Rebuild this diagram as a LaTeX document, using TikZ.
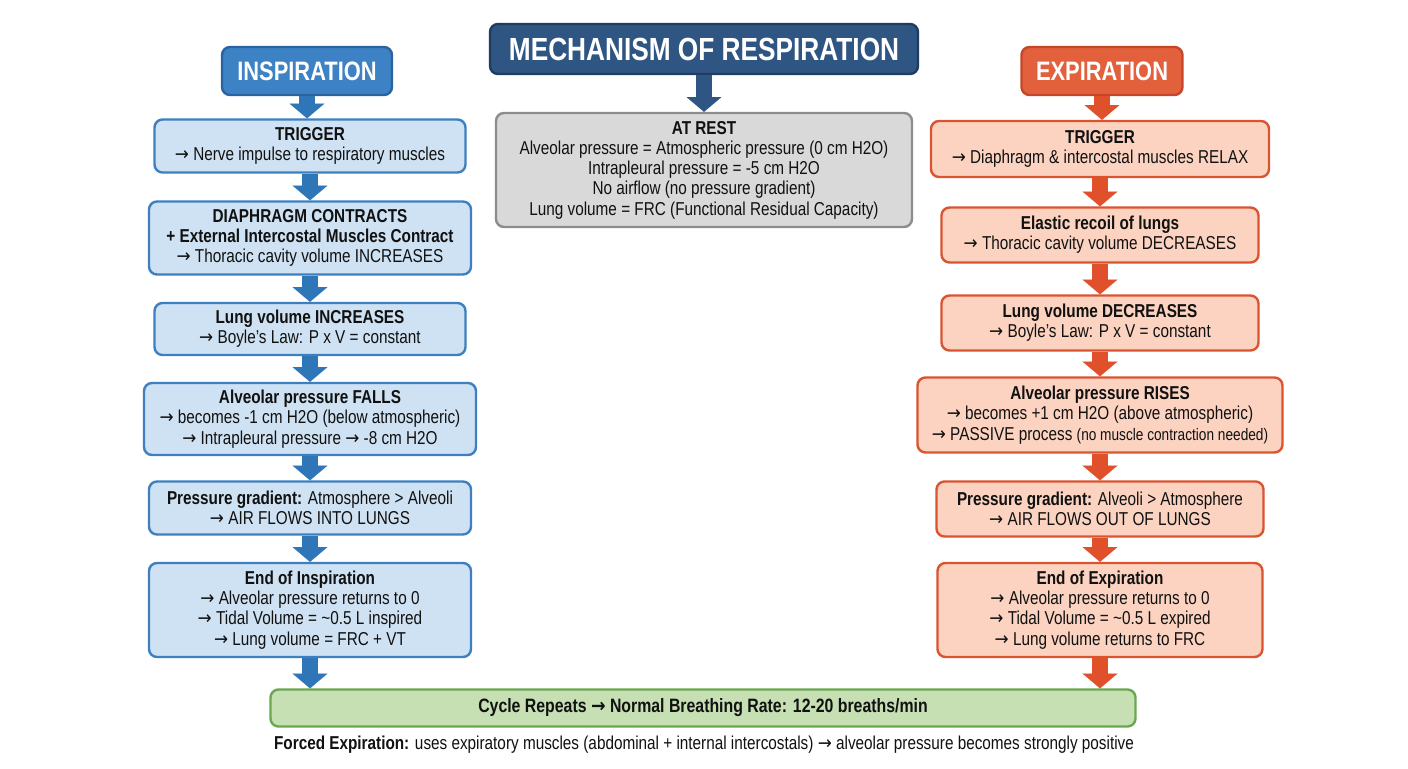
\documentclass[tikz,border=0pt]{standalone}
\usepackage{fontspec}
\setmainfont{Liberation Sans}[FakeStretch=0.82]
\newfontfamily\arrowfont{DejaVu Sans}[FakeStretch=0.9]
\newcommand\ra{{\arrowfont →}}
\usetikzlibrary{arrows.meta}
\definecolor{bhead}{HTML}{3C82C4}
\definecolor{bheadline}{HTML}{2A64A0}
\definecolor{lfill}{HTML}{CFE2F3}
\definecolor{lbord}{HTML}{3D7FBF}
\definecolor{barrow}{HTML}{2F76B8}
\definecolor{navy}{HTML}{2F5583}
\definecolor{navyline}{HTML}{1F3D60}
\definecolor{ohead}{HTML}{E2613C}
\definecolor{oheadline}{HTML}{C4472A}
\definecolor{rfill}{HTML}{FBD3C0}
\definecolor{rbord}{HTML}{DA5430}
\definecolor{oarrow}{HTML}{E0502A}
\definecolor{gfill}{HTML}{D9D9D9}
\definecolor{gbord}{HTML}{8C8C8C}
\definecolor{grfill}{HTML}{C6E0B4}
\definecolor{grbord}{HTML}{6AA84F}
\definecolor{txt}{HTML}{111111}
\tikzset{
  sz/.style 2 args={minimum width=#1*0.75pt, minimum height=#2*0.75pt},
  base/.style={rounded corners=6pt, line width=1.8pt, align=center, inner sep=1pt, text=txt,
    font=\fontsize{14}{15.2}\selectfont},
  lbox/.style={base, draw=lbord, fill=lfill},
  rbox/.style={base, draw=rbord, fill=rfill},
  restbox/.style={base, draw=gbord, fill=gfill},
  greenbox/.style={base, draw=grbord, fill=grfill},
  headbox/.style={rounded corners=6pt, line width=1.8pt, align=center, text=white,
    font=\fontsize{20}{22}\selectfont\bfseries},
  flowarrow/.style={line width=12pt, -{Triangle[width=26pt,length=11pt,line width=0.01pt]}},
  bflow/.style={flowarrow, draw=barrow},
  oflow/.style={flowarrow, draw=oarrow},
  nflow/.style={flowarrow, draw=navy},
}
\begin{document}
\begin{tikzpicture}[x=0.75pt,y=-0.75pt]
\useasboundingbox[fill=white] (0,0) rectangle (1408,768);

% headers
\node[headbox, fill=bhead, draw=bheadline, sz={170}{48}] (insp) at (307,71) {INSPIRATION};
\node[headbox, fill=navy, draw=navyline, sz={428}{50}, font=\fontsize{24}{26}\selectfont\bfseries] (title) at (704,49) {MECHANISM OF RESPIRATION};
\node[headbox, fill=ohead, draw=oheadline, sz={161}{48}] (exp) at (1102,71) {EXPIRATION};

% at rest
\node[restbox, sz={416}{114}] (rest) at (704,170) {\textbf{AT REST}\\Alveolar pressure = Atmospheric pressure (0 cm H2O)\\Intrapleural pressure = -5 cm H2O\\No airflow (no pressure gradient)\\Lung volume = FRC (Functional Residual Capacity)};

% left column
\node[lbox, sz={311}{53}] (l1) at (310,146) {\textbf{TRIGGER}\\\ra{} Nerve impulse to respiratory muscles};
\node[lbox, sz={322}{73}] (l2) at (310,238) {\textbf{DIAPHRAGM CONTRACTS}\\\textbf{+ External Intercostal Muscles Contract}\\\ra{} Thoracic cavity volume INCREASES};
\node[lbox, sz={311}{52}] (l3) at (310,329) {\textbf{Lung volume INCREASES}\\\ra{} Boyle's Law: P x V = constant};
\node[lbox, sz={332}{72}] (l4) at (310,419) {\textbf{Alveolar pressure FALLS}\\\ra{} becomes -1 cm H2O (below atmospheric)\\\ra{} Intrapleural pressure \ra{} -8 cm H2O};
\node[lbox, sz={322}{53}] (l5) at (310,508) {\textbf{Pressure gradient:} Atmosphere > Alveoli\\\ra{} AIR FLOWS INTO LUNGS};
\node[lbox, sz={322}{94}] (l6) at (310,610) {\textbf{End of Inspiration}\\\ra{} Alveolar pressure returns to 0\\\ra{} Tidal Volume = \textasciitilde0.5 L inspired\\\ra{} Lung volume = FRC + VT};

% right column
\node[rbox, sz={338}{56}] (r1) at (1100,149) {\textbf{TRIGGER}\\\ra{} Diaphragm \& intercostal muscles RELAX};
\node[rbox, sz={317}{55}] (r2) at (1100,235) {\textbf{Elastic recoil of lungs}\\\ra{} Thoracic cavity volume DECREASES};
\node[rbox, sz={317}{55}] (r3) at (1100,323) {\textbf{Lung volume DECREASES}\\\ra{} Boyle's Law: P x V = constant};
\node[rbox, sz={365}{75}] (r4) at (1100,415) {\textbf{Alveolar pressure RISES}\\\ra{} becomes +1 cm H2O (above atmospheric)\\\ra{} PASSIVE process {\fontsize{12.5}{15}\selectfont (no muscle contraction needed)}};
\node[rbox, sz={327}{55}] (r5) at (1100,509) {\textbf{Pressure gradient:} Alveoli > Atmosphere\\\ra{} AIR FLOWS OUT OF LUNGS};
\node[rbox, sz={325}{94}] (r6) at (1100,610) {\textbf{End of Expiration}\\\ra{} Alveolar pressure returns to 0\\\ra{} Tidal Volume = \textasciitilde0.5 L expired\\\ra{} Lung volume returns to FRC};

% bottom
\node[greenbox, sz={865}{37}, font=\fontsize{14.5}{16}\selectfont\bfseries] (cycle) at (703,708) {Cycle Repeats \ra{} Normal Breathing Rate: 12-20 breaths/min};
\node[text=txt, font=\fontsize{14}{16}\selectfont] (foot) at (704,745) {\textbf{Forced Expiration:} uses expiratory muscles (abdominal + internal intercostals) \ra{} alveolar pressure becomes strongly positive};

% arrows
\draw[nflow] (title.south) -- (rest.north);
\draw[bflow] (insp.south) -- (insp.south |- l1.north);
\draw[bflow] (l1.south) -- (l2.north);
\draw[bflow] (l2.south) -- (l3.north);
\draw[bflow] (l3.south) -- (l4.north);
\draw[bflow] (l4.south) -- (l5.north);
\draw[bflow] (l5.south) -- (l6.north);
\draw[bflow] (l6.south) -- (l6.south |- cycle.north);
\draw[oflow] (exp.south) -- (exp.south |- r1.north);
\draw[oflow] (r1.south) -- (r2.north);
\draw[oflow] (r2.south) -- (r3.north);
\draw[oflow] (r3.south) -- (r4.north);
\draw[oflow] (r4.south) -- (r5.north);
\draw[oflow] (r5.south) -- (r6.north);
\draw[oflow] (r6.south) -- (r6.south |- cycle.north);
\end{tikzpicture}
\end{document}
